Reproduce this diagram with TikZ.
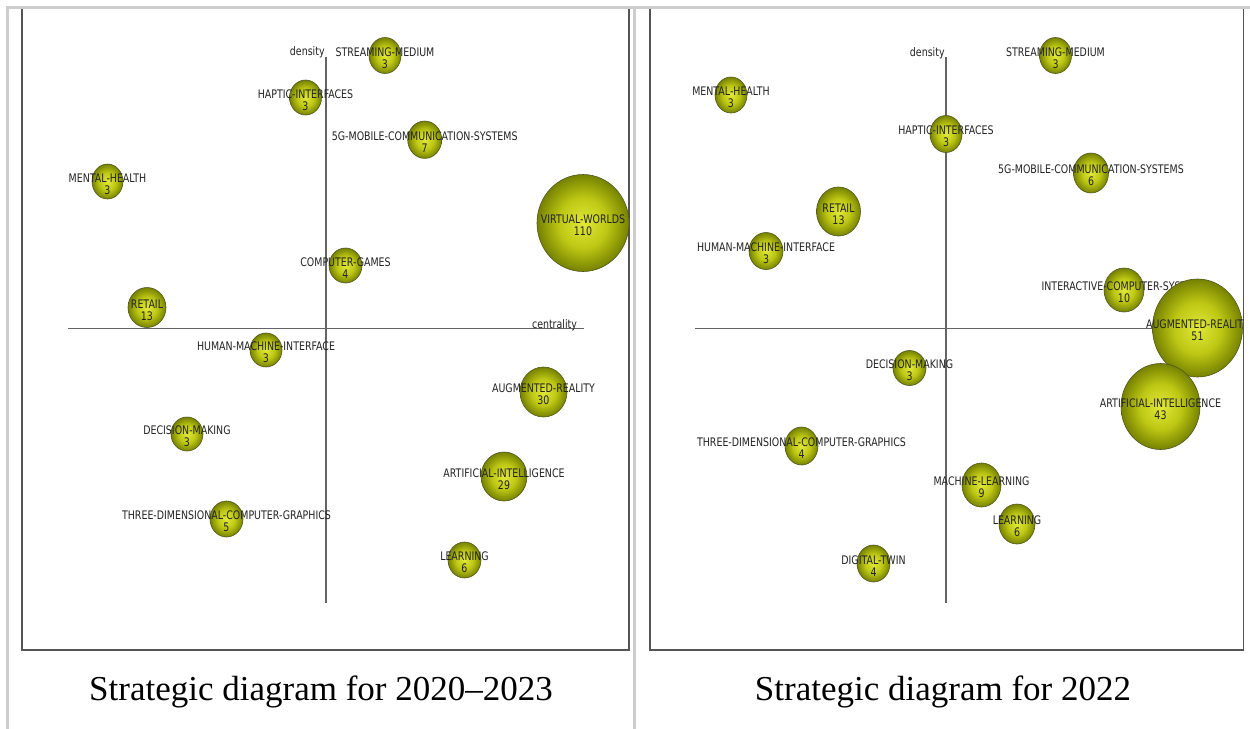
\documentclass[tikz,border=0pt]{standalone}
\usepackage{fontspec}
\setmainfont{Liberation Serif}
\newfontfamily\bubblefont[FakeStretch=0.8]{DejaVu Sans}
\usepackage{tikz}
\usetikzlibrary{shapes.geometric, positioning}
\definecolor{bubblein}{RGB}{226,232,58}
\definecolor{bubblemid}{RGB}{190,200,20}
\definecolor{bubbleout}{RGB}{118,130,0}
\definecolor{bubbleedge}{RGB}{80,86,30}
\definecolor{labelgray}{RGB}{35,35,35}
\definecolor{axisgray}{RGB}{100,100,100}
\definecolor{framegray}{RGB}{85,85,85}
\definecolor{pagegray}{RGB}{205,205,205}
\pgfdeclareradialshading{bubbleshade}{\pgfpoint{0bp}{0bp}}{%
    color(0bp)=(bubblein); color(13bp)=(bubblemid); color(25bp)=(bubbleout); color(50bp)=(bubbleout)}
\tikzset{
    bubble/.style={ellipse, shading=bubbleshade, draw=bubbleedge, line width=0.3pt, inner sep=0pt},
    bubblelabel/.style={font=\bubblefont\fontsize{5.9pt}{6pt}\selectfont, text=labelgray,
        anchor=base, inner sep=0pt},
    axisline/.style={axisgray, line width=0.6pt},
    panelframe/.style={framegray, line width=0.6pt},
    caption/.style={font=\fontsize{17.5pt}{20pt}\selectfont, anchor=base}
}
\begin{document}
\begin{tikzpicture}[x=0.5pt, y=-0.5pt]
    \useasboundingbox (0,0) rectangle (1250,729);
    \fill[white] (0,0) rectangle (1250,729);

    % Left panel: 2020-2023
    \draw[panelframe] (22,8) rectangle (629,650);
    \begin{scope}
        \clip (22,8) rectangle (629,650);
        \draw[axisline] (68,328.5) -- (584,328.5);
        \draw[axisline] (326,57) -- (326,603);
        \node[bubblelabel, anchor=base east] (ldensity) at (325,55) {density};
        \node[bubblelabel] (lcentrality) at (554.5,328) {centrality};
        \foreach \cx/\cy/\rx/\ry/\lbl/\num [count=\k] in {
            385/55.5/16/18/STREAMING-MEDIUM/3,
            305.5/97.5/16/17.5/HAPTIC-INTERFACES/3,
            424.7/139.7/17/18.7/5G-MOBILE-COMMUNICATION-SYSTEMS/7,
            107.5/181.5/15.5/17.5/MENTAL-HEALTH/3,
            583/223/46/48.5/VIRTUAL-WORLDS/110,
            345.5/265.5/16.5/17.5/COMPUTER-GAMES/4,
            147/307.5/19/20/RETAIL/13,
            266/350/16/17/HUMAN-MACHINE-INTERFACE/3,
            543.5/392/23.5/25/AUGMENTED-REALITY/30,
            187/434/16/17/DECISION-MAKING/3,
            504/476.5/23/24.5/ARTIFICIAL-INTELLIGENCE/29,
            226.5/519/16.5/18/THREE-DIMENSIONAL-COMPUTER-GRAPHICS/5,
            464.5/560/16.5/18/LEARNING/6} {
            \node[bubble, minimum width=\rx pt, minimum height=\ry pt] (lb\k) at (\cx,\cy) {};
            \node[bubblelabel] (ll\k) at (\cx,\cy+0.6) {\lbl};
            \node[bubblelabel] (ln\k) at (\cx,\cy+12.7) {\num};
        }
    \end{scope}

    % Right panel: 2022
    \draw[panelframe] (650,8) rectangle (1243.5,650);
    \begin{scope}
        \clip (650,8) rectangle (1243.5,650);
        \draw[axisline] (695,328.5) -- (1243.5,328.5);
        \draw[axisline] (946,57) -- (946,603);
        \node[bubblelabel, anchor=base east] (rdensity) at (945,56) {density};
        \foreach \cx/\cy/\rx/\ry/\lbl/\num [count=\k] in {
            1055.5/55.5/16/18/STREAMING-MEDIUM/3,
            731/95/16/18/MENTAL-HEALTH/3,
            946/134/16/18.5/HAPTIC-INTERFACES/3,
            1091/173/17.5/20/5G-MOBILE-COMMUNICATION-SYSTEMS/6,
            838.5/211.5/22/24.5/RETAIL/13,
            766/251/17/18.5/HUMAN-MACHINE-INTERFACE/3,
            1124/290/20/22/INTERACTIVE-COMPUTER-SYSTEMS/10,
            1197.5/328/45/49/AUGMENTED-REALITY/51,
            1160.5/406.5/39.5/43/ARTIFICIAL-INTELLIGENCE/43,
            909.5/368/16.5/17.5/DECISION-MAKING/3,
            801.5/446/16.5/19/THREE-DIMENSIONAL-COMPUTER-GRAPHICS/4,
            981.5/485/19.5/22/MACHINE-LEARNING/9,
            1017/524/18/20/LEARNING/6,
            873.5/563.5/16.5/18.5/DIGITAL-TWIN/4} {
            \node[bubble, minimum width=\rx pt, minimum height=\ry pt] (rb\k) at (\cx,\cy) {};
            \node[bubblelabel] (rl\k) at (\cx,\cy+0.6) {\lbl};
            \node[bubblelabel] (rn\k) at (\cx,\cy+12.7) {\num};
        }
    \end{scope}

    % Page lines
    \draw[pagegray, line width=1.5pt] (7,729) -- (7,7) -- (1250,7);
    \draw[pagegray, line width=1.5pt] (634.5,7) -- (634.5,729);

    % Captions
    \node[caption] (lcaption) at (321,700) {Strategic diagram for 2020--2023};
    \node[caption] (rcaption) at (943,700) {Strategic diagram for 2022};
\end{tikzpicture}
\end{document}
